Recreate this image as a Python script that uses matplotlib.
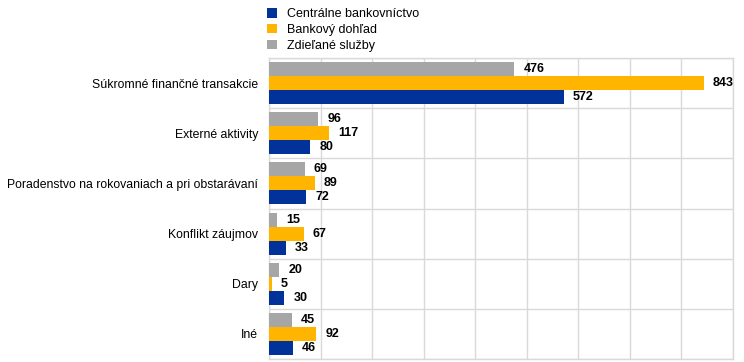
import matplotlib
matplotlib.use("Agg")
import matplotlib.pyplot as plt
import numpy as np

plt.rcParams['font.family'] = ['Liberation Sans', 'DejaVu Sans']

categories = ["Súkromné finančné transakcie", "Externé aktivity",
              "Poradenstvo na rokovaniach a pri obstarávaní", "Konflikt záujmov",
              "Dary", "Iné"]
series_names = ["Centrálne bankovníctvo", "Bankový dohľad", "Zdieľané služby"]
central = [572, 80, 72, 33, 30, 46]
supervision = [843, 117, 89, 67, 5, 92]
shared = [476, 96, 69, 15, 20, 45]
colors = ["#003299", "#FFB400", "#A6A6A6"]

fig = plt.figure(figsize=(7.44, 3.62), dpi=100)
ax = fig.add_axes([269/744, 1 - 359/362, (733-269)/744, (359-58)/362])

n = len(categories)
y = np.arange(n)
h = 0.28
offsets = [h, 0, -h]  # central bottom, supervision middle, shared top (inverted axis)
data = [central, supervision, shared]
handles = []
for vals, off, c, name in zip(data, offsets, colors, series_names):
    bars = ax.barh(y + off, vals, height=h, color=c, label=name, zorder=3)
    handles.append(bars)
    for yi, v in zip(y, vals):
        ax.annotate(str(v), xy=(v, yi + off), xytext=(6.5, 0), textcoords='offset points',
                    va='center', ha='left', fontsize=9, fontweight='bold', color='black')

ax.set_ylim(n - 0.5, -0.5)
ax.set_xlim(0, 900)
ax.set_xticks(np.arange(0, 901, 100))
ax.set_xticklabels([])
ax.set_yticks(y)
ax.set_yticklabels(categories, fontsize=8.8)
ax.set_yticks(np.arange(-0.5, n, 1), minor=True)
ax.tick_params(axis='both', which='both', length=0)
ax.tick_params(axis='y', pad=8)
ax.grid(True, axis='x', which='major', color='#D9D9D9', linewidth=1, zorder=0)
ax.grid(True, axis='y', which='minor', color='#D9D9D9', linewidth=1, zorder=0)
for s in ax.spines.values():
    s.set_color('#D9D9D9')
    s.set_linewidth(1)

fig.legend(handles, series_names, loc='upper left', bbox_to_anchor=(262/744, 1.0 - 3/362),
           frameon=False, fontsize=9, handlelength=0.8, handleheight=0.8,
           handletextpad=0.8, labelspacing=0.3, borderaxespad=0)

fig.savefig("out.png", dpi=100)
